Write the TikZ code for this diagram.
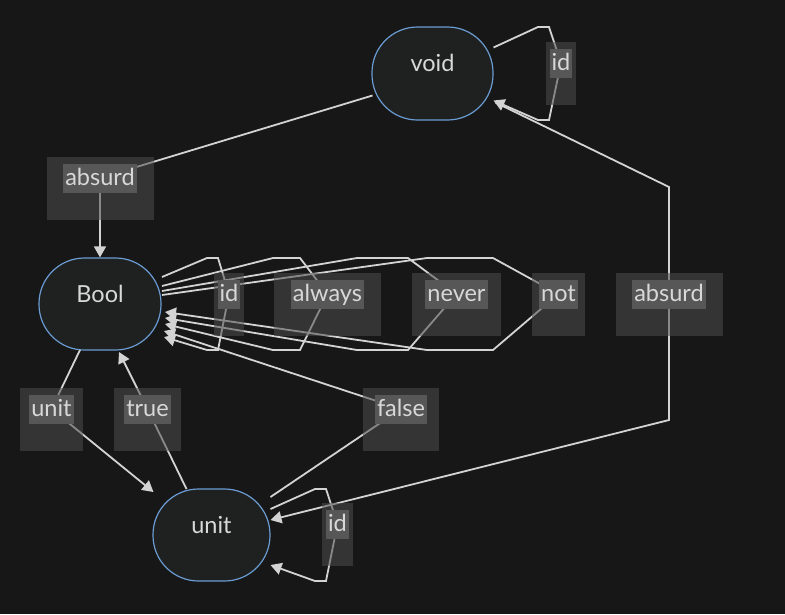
\documentclass[tikz,border=0pt]{standalone}
\usepackage{fontspec}
\setmainfont{Lato}
\usetikzlibrary{calc,arrows.meta}
\definecolor{bgc}{RGB}{23,23,23}
\definecolor{edgec}{RGB}{211,211,211}
\definecolor{nodefill}{RGB}{31,33,33}
\definecolor{nodeborder}{RGB}{106,156,210}
\definecolor{labouter}{RGB}{77,77,77}
\definecolor{labinner}{RGB}{87,87,87}
\definecolor{textc}{RGB}{216,216,216}
\newcommand\edgelab[3]{%
  \fill[labbg] ($(#1)+(-#2,-21)$) rectangle ($(#1)+(#2,42)$);
  \node[labtext] (#1t) at (#1) {#3};}
\begin{document}
\begin{tikzpicture}[x=1pt,y=-1pt,
  catnode/.style={draw=nodeborder, line width=1.2pt, fill=nodefill, rounded corners=45.5pt,
    minimum width=121pt, minimum height=93pt, inner sep=0pt, text=textc,
    font=\fontsize{23.5}{27}\selectfont, text height=10pt, text depth=14pt},
  edge/.style={draw=edgec, line width=1.8pt, line join=miter},
  arr/.style={edge, -{Triangle[length=11pt,width=12pt]}},
  labbg/.style={fill=labouter, fill opacity=0.55},
  labtext/.style={fill=labinner, text=textc, font=\fontsize{23.5}{27}\selectfont,
    inner xsep=2pt, inner ysep=2pt, text height=20pt, text depth=5pt}
]
\fill[bgc] (0,0) rectangle (785,614);
\useasboundingbox (0,0) rectangle (785,614);

% category nodes
\node[catnode] (void) at (432.5,73.5) {void};
\node[catnode, minimum width=122pt, minimum height=92pt] (Bool) at (100,304) {Bool};
\node[catnode, minimum width=117pt, minimum height=92pt] (unit) at (211.5,535) {unit};

% label positions
\coordinate (Lvoidid) at (561,63);
\coordinate (Labs1) at (100,178);
\coordinate (Lid) at (229,294);
\coordinate (Lalways) at (327.5,294);
\coordinate (Lnever) at (456.5,294);
\coordinate (Lnot) at (558.5,294);
\coordinate (Labs2) at (669,294);
\coordinate (Lunit) at (51.5,409);
\coordinate (Ltrue) at (147.5,409);
\coordinate (Lfalse) at (401,409);
\coordinate (Lunitid) at (337.5,524);

% edges
\draw[arr] ($(void.center)+(-60,22)$) -- (Labs1) -- (Bool.north);
\draw[arr] ($(void.center)+(61,-26)$) -- (538,27) -- (549,27) -- (Lvoidid)
  -- (549,120) -- (538,120) -- ($(void.center)+(61,27)$);
\draw[arr] ($(void.center)+(63,29)$) -- (669,187) -- (Labs2) -- (669,420)
  -- ($(unit.center)+(59,-15)$);

\draw[arr] ($(Bool.center)+(62,-27)$) -- (207,258) -- (218,258) -- (Lid)
  -- (218,350) -- (207,350) -- ($(Bool.center)+(64,33)$);
\draw[arr] ($(Bool.center)+(62,-18)$) -- (273,258) -- (300,258) -- (Lalways)
  -- (300,350) -- (273,350) -- ($(Bool.center)+(65,20)$);
\draw[arr] ($(Bool.center)+(62,-13)$) -- (357,258) -- (408,258) -- (Lnever)
  -- (408,350) -- (357,350) -- ($(Bool.center)+(65,14)$);
\draw[arr] ($(Bool.center)+(62,-9)$) -- (427,258) -- (493,258) -- (Lnot)
  -- (493,350) -- (427,350) -- ($(Bool.center)+(65,8)$);

\draw[arr] ($(unit.center)+(59,-38)$) -- (Lfalse) -- ($(Bool.center)+(64,27)$);
\draw[arr] ($(Bool.center)+(-20,46)$) -- (Lunit) -- ($(unit.center)+(-58,-43)$);
\draw[arr] ($(unit.center)+(-25,-46)$) -- (Ltrue) -- ($(Bool.center)+(19,48)$);
\draw[arr] ($(unit.center)+(59,-26)$) -- (315,489) -- (326,489) -- (Lunitid)
  -- (326,581) -- (315,581) -- ($(unit.center)+(59,30)$);

% edge labels
\edgelab{Lvoidid}{15}{id}
\edgelab{Labs1}{53.5}{absurd}
\edgelab{Lid}{15}{id}
\edgelab{Lalways}{53.5}{always}
\edgelab{Lnever}{44.5}{never}
\edgelab{Lnot}{26.5}{not}
\edgelab{Labs2}{53.5}{absurd}
\edgelab{Lunit}{31.5}{unit}
\edgelab{Ltrue}{33.5}{true}
\edgelab{Lfalse}{38}{false}
\edgelab{Lunitid}{15.5}{id}
\end{tikzpicture}
\end{document}
